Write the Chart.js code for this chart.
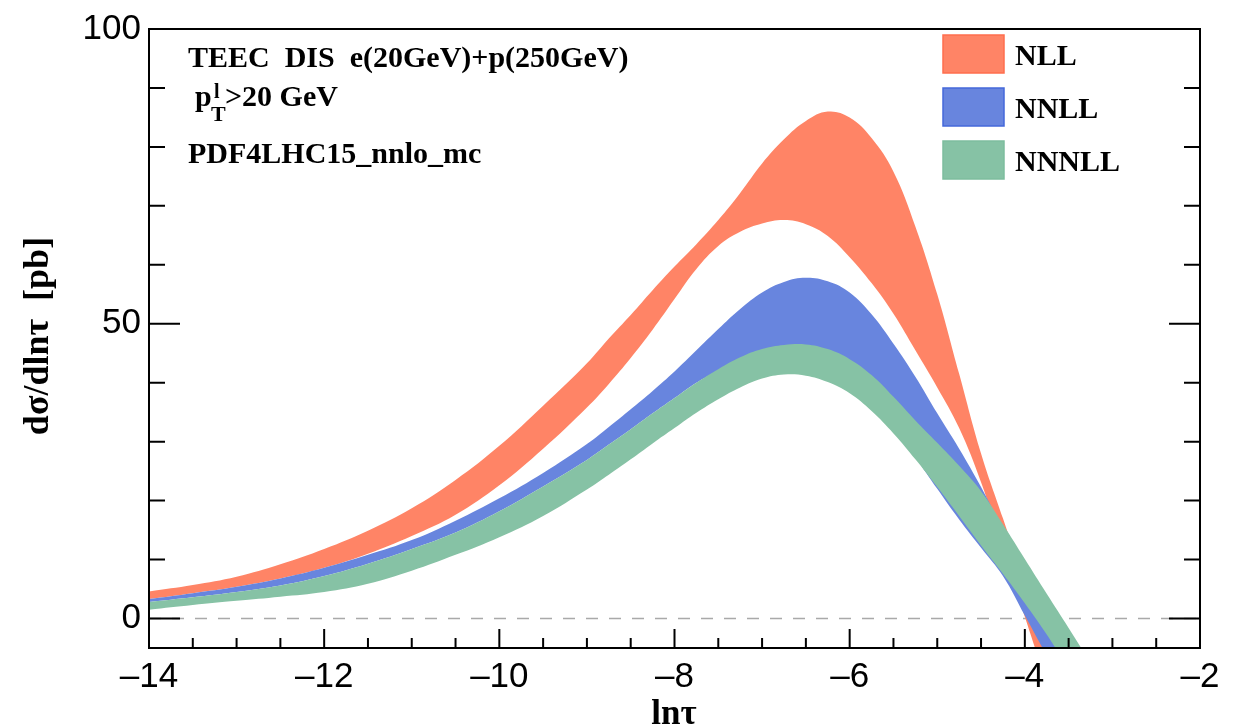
<!DOCTYPE html>
<html lang="en">
<head>
<meta charset="UTF-8">
<title>TEEC DIS - dσ/dlnτ</title>
<script src="https://cdn.jsdelivr.net/npm/chart.js"></script>
<style>
  html, body { margin: 0; padding: 0; background: #fff; }
  #wrap { width: 1246px; height: 727px; position: relative; }
</style>
</head>
<body>
<div id="wrap"><canvas id="chart"></canvas></div>
<script>
// sampling points in ln(tau)
const lnTau = [-14, -13.5, -13, -12.5, -12, -11.5, -11, -10.5, -10, -9.5, -9, -8.75, -8.5, -8.25, -8,
  -7.75, -7.5, -7.25, -7, -6.75, -6.5, -6.25, -6, -5.75, -5.5, -5.25, -5, -4.75, -4.5, -4.25, -4,
  -3.75, -3.5, -3.25];

// band edges (pb)
const nllUp = [4.6, 5.7, 7.1, 9.2, 11.8, 14.9, 18.7, 23.5, 29.3, 36.1, 43.3, 47.5, 51.5, 55.7, 59.7,
  63.5, 67.6, 72.2, 77.2, 81.3, 84.4, 86.0, 85.0, 81.5, 75.8, 66.5, 55.0, 41.5, 28.0, 17.0, 6.0,
  -6.5, -19, -31];
const nllLo = [3.3, 4.3, 5.4, 6.8, 8.6, 11.0, 14.0, 17.6, 22.6, 28.8, 35.8, 39.8, 44.2, 49.0, 54.2,
  59.3, 63.2, 65.6, 67.0, 67.6, 66.9, 64.9, 61.3, 56.9, 51.7, 45.5, 39.2, 32.3, 23.1, 11.8, 0.3,
  -11, -22, -33];
const nnllUp = [3.3, 4.3, 5.4, 6.8, 8.6, 10.8, 13.3, 16.6, 20.4, 24.7, 29.6, 32.5, 35.5, 38.6, 41.9,
  45.5, 49.1, 52.5, 55.3, 57.1, 57.8, 57.2, 55.3, 51.6, 46.6, 41.0, 34.8, 28.8, 22.3, 15.1, 7.8,
  0.5, -7, -14.5];
const nnllLo = [2.8, 3.6, 4.5, 5.6, 7.2, 9.3, 11.8, 14.6, 18.2, 22.4, 26.9, 29.5, 32.1, 34.8, 37.4,
  40.0, 42.0, 43.5, 44.5, 44.8, 44.5, 43.5, 41.5, 38.0, 33.5, 27.5, 22.0, 16.8, 12.0, 7.2, 0.5,
  -6.3, -13, -20];
const nnnllUp = [2.8, 3.6, 4.5, 5.6, 7.2, 9.3, 11.8, 14.6, 18.2, 22.4, 26.9, 29.5, 32.1, 34.8, 37.4,
  40.0, 42.3, 44.3, 45.7, 46.4, 46.5, 45.7, 44.0, 41.3, 37.6, 33.6, 29.8, 25.9, 21.6, 16.0, 10.1,
  4.2, -1.6, -7.5];
const nnnllLo = [1.5, 2.3, 3.0, 3.7, 4.5, 5.9, 8.1, 10.8, 13.8, 17.4, 21.9, 24.4, 27.0, 29.7, 32.3,
  34.9, 37.2, 39.2, 40.7, 41.4, 41.2, 40.1, 38.2, 35.2, 31.4, 27.0, 22.3, 17.4, 12.4, 7.6, 2.6,
  -2.7, -8.5, -14];

const seriesNames = ['NLL', 'NNLL', 'NNNLL'];

// axes
const xMajorTicks = [-14, -12, -10, -8, -6, -4, -2];
const xTickLabels = ['\u201314', '\u201312', '\u201310', '\u20138', '\u20136', '\u20134', '\u20132'];
const yMajorTicks = [0, 50, 100];
const yTickLabels = ['0', '50', '100'];

const colNLL = '#FF8466';
const colNNLL = '#6885DE';
const colNNNLL = '#86C2A5';

function pts(ys) {
  return lnTau.map((x, i) => ({ x: x, y: ys[i] }));
}

function band(label, ys, fill, color) {
  return {
    label: label,
    data: pts(ys),
    fill: fill,
    backgroundColor: color,
    borderColor: color,
    borderWidth: 0,
    pointRadius: 0,
    tension: 0.4
  };
}

// first dataset is painted last, so NNNLL ends up on top like in the plot
const datasets = [
  band('NNNLL', nnnllUp, '+1', colNNNLL),
  band('NNNLL lo', nnnllLo, false, colNNNLL),
  band('NNLL', nnllUp, '+1', colNNLL),
  band('NNLL lo', nnllLo, false, colNNLL),
  band('NLL', nllUp, '+1', colNLL),
  band('NLL lo', nllLo, false, colNLL)
];

const isMajor = (list, v) => list.some(m => Math.abs(m - v) < 1e-6);

// frame, inward ticks and the dashed zero line
const framePlugin = {
  id: 'frame',
  beforeDatasetsDraw(chart) {
    const { ctx, chartArea: a, scales: { y } } = chart;
    const y0 = y.getPixelForValue(0);
    ctx.save();
    ctx.strokeStyle = '#a9a9a9';
    ctx.lineWidth = 1.5;
    ctx.setLineDash([12, 11]);
    ctx.beginPath();
    ctx.moveTo(a.left, y0);
    ctx.lineTo(a.right, y0);
    ctx.stroke();
    ctx.restore();
  },
  afterDatasetsDraw(chart) {
    const { ctx, chartArea: a, scales: { x, y } } = chart;
    ctx.save();
    ctx.strokeStyle = '#000';
    ctx.lineWidth = 2;
    ctx.strokeRect(a.left, a.top, a.right - a.left, a.bottom - a.top);
    ctx.beginPath();
    x.ticks.forEach(t => {
      const px = x.getPixelForValue(t.value);
      const len = isMajor(xMajorTicks, t.value) ? 19 : 10;
      ctx.moveTo(px, a.bottom);
      ctx.lineTo(px, a.bottom - len);
    });
    y.ticks.forEach(t => {
      const py = y.getPixelForValue(t.value);
      const len = isMajor(yMajorTicks, t.value) ? 31 : 16;
      ctx.moveTo(a.left, py);
      ctx.lineTo(a.left + len, py);
      ctx.moveTo(a.right, py);
      ctx.lineTo(a.right - len, py);
    });
    ctx.stroke();
    ctx.restore();
  }
};

// labels, legend and axis titles
const textPlugin = {
  id: 'texts',
  afterDraw(chart) {
    const ctx = chart.ctx;
    const serif = '"Liberation Serif", "Times New Roman", serif';
    ctx.save();
    ctx.fillStyle = '#000';
    ctx.textBaseline = 'alphabetic';
    ctx.textAlign = 'left';

    ctx.font = 'bold 30px ' + serif;
    ctx.fillText('TEEC  DIS  e(20GeV)+p(250GeV)', 188, 67);
    ctx.fillText('p', 195, 106);
    ctx.fillText('>20 GeV', 225, 106);
    ctx.fillText('PDF4LHC15_nnlo_mc', 188, 163);
    ctx.font = 'bold 20px ' + serif;
    ctx.fillText('l', 214, 98);
    ctx.font = 'bold 22px ' + serif;
    ctx.fillText('T', 211, 121);

    // legend
    const cols = [colNLL, colNNLL, colNNNLL];
    const edges = ['#FF6E4E', '#4468DA', '#7DBD9E'];
    seriesNames.forEach((name, i) => {
      const top = 35 + i * 53;
      ctx.fillStyle = cols[i];
      ctx.fillRect(943, top, 61, 38);
      ctx.strokeStyle = edges[i];
      ctx.lineWidth = 1.5;
      ctx.strokeRect(943, top, 61, 38);
      ctx.fillStyle = '#000';
      ctx.font = 'bold 30px ' + serif;
      ctx.fillText(name, 1015, top + 30);
    });

    // axis titles
    ctx.font = 'bold 35px ' + serif;
    ctx.textAlign = 'center';
    ctx.fillText('ln\u03C4', 674, 724);

    ctx.translate(48, 336);
    ctx.rotate(-Math.PI / 2);
    ctx.font = 'bold 36px ' + serif;
    ctx.fillText('d\u03C3/dln\u03C4  [pb]', 0, 0);
    ctx.restore();
  }
};

const tickFont = { family: '"Liberation Sans", Arial, sans-serif', size: 35 };

new Chart(document.getElementById('chart'), {
  type: 'line',
  data: { datasets: datasets },
  options: {
    responsive: true,
    maintainAspectRatio: false,
    animation: false,
    layout: { padding: { top: 27, right: 46, left: 0, bottom: 0 } },
    plugins: {
      legend: { display: false },
      tooltip: { enabled: false }
    },
    scales: {
      x: {
        type: 'linear',
        min: -14,
        max: -2,
        grid: { display: false, drawTicks: false },
        border: { display: false },
        afterBuildTicks: s => {
          const t = [];
          for (let v = -14; v <= -2 + 1e-9; v += 0.5) t.push({ value: v });
          s.ticks = t;
        },
        afterFit: s => { s.height = 79; },
        ticks: {
          font: tickFont,
          color: '#000',
          padding: 8,
          maxRotation: 0,
          autoSkip: false,
          callback: v => {
            const i = xMajorTicks.findIndex(m => Math.abs(m - v) < 1e-6);
            return i >= 0 ? xTickLabels[i] : '';
          }
        }
      },
      y: {
        min: -5,
        max: 100,
        grid: { display: false, drawTicks: false },
        border: { display: false },
        afterBuildTicks: s => {
          const t = [];
          for (let v = 0; v <= 100; v += 10) t.push({ value: v });
          s.ticks = t;
        },
        afterFit: s => { s.width = 149; },
        ticks: {
          font: tickFont,
          color: '#000',
          padding: 8,
          autoSkip: false,
          callback: v => {
            const i = yMajorTicks.findIndex(m => Math.abs(m - v) < 1e-6);
            return i >= 0 ? yTickLabels[i] : '';
          }
        }
      }
    }
  },
  plugins: [framePlugin, textPlugin]
});
</script>
</body>
</html>
